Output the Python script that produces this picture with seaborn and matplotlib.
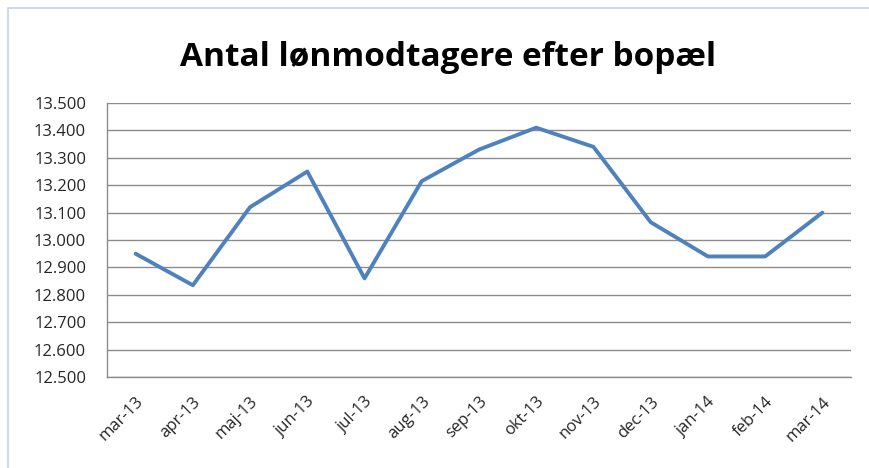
import numpy as np
import pandas as pd
import matplotlib
matplotlib.use("Agg")
import matplotlib.pyplot as plt
import seaborn as sns
from matplotlib.ticker import FixedLocator, FuncFormatter

maaneder = ["mar-13", "apr-13", "maj-13", "jun-13", "jul-13", "aug-13", "sep-13",
            "okt-13", "nov-13", "dec-13", "jan-14", "feb-14", "mar-14"]
antal = [12950, 12835, 13120, 13250, 12860, 13215, 13330,
         13410, 13340, 13065, 12940, 12940, 13100]
y_ticks = [12500, 12600, 12700, 12800, 12900, 13000, 13100, 13200, 13300, 13400, 13500]

sns.set_style("white")
plt.rcParams['font.family'] = ['Open Sans', 'DejaVu Sans']

df = pd.DataFrame({"maaned": maaneder, "antal": antal})
df["pos"] = np.arange(len(df))

fig = plt.figure(figsize=(8.69, 4.68), dpi=100)
ax = fig.add_axes([0.1231, 0.1944, 0.9793 - 0.1231, 0.7799 - 0.1944])

# ramme om diagrammet
fig.patches.append(plt.Rectangle((8 / 869, -0.1), 1.2, 1 - 8 / 468 + 0.1,
                                 transform=fig.transFigure, fill=False,
                                 edgecolor="#c5d3e3", linewidth=1.2))

sns.lineplot(data=df, x="pos", y="antal", ax=ax, color="#4f81bd", linewidth=2.8)

ax.set_xlim(-0.5, len(df) - 0.5)
ax.set_ylim(12500, 13500)
ax.set_yticks(y_ticks)
ax.yaxis.set_major_formatter(FuncFormatter(lambda v, p: f"{int(v):,}".replace(",", ".")))
ax.grid(axis="y", color="#8c8c8c", linewidth=1.0)
ax.set_axisbelow(True)

ax.set_xticks(df["pos"])
ax.set_xticklabels(maaneder, rotation=45, ha="right", rotation_mode="anchor")
ax.xaxis.set_minor_locator(FixedLocator(np.arange(-0.5, len(df), 1.0)))
ax.tick_params(axis="x", which="major", length=0, pad=12, labelsize=12, labelcolor="#262626")
ax.tick_params(axis="x", which="minor", length=6, color="#8c8c8c", direction="out")
ax.tick_params(axis="y", length=6, color="#8c8c8c", direction="out", labelsize=12,
               labelcolor="#262626", pad=9)

for s in ["top", "right"]:
    ax.spines[s].set_visible(False)
for s in ["left", "bottom"]:
    ax.spines[s].set_color("#8c8c8c")
    ax.spines[s].set_linewidth(1.0)

ax.set_xlabel("")
ax.set_ylabel("")
fig.text(0.516, 0.878, "Antal lønmodtagere efter bopæl", ha="center", va="center",
         fontsize=24, fontweight="bold", color="#000000")

plt.savefig("out.png", dpi=100)
plt.close()
